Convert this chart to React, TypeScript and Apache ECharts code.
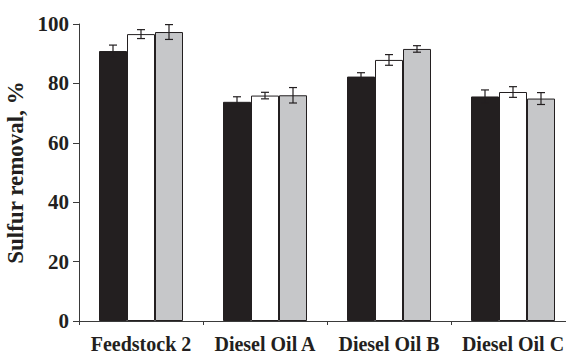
import React, { useEffect, useRef } from "react";
import * as echarts from "echarts";

const categories = ["Feedstock 2", "Diesel Oil A", "Diesel Oil B", "Diesel Oil C"];
const blackValues = [90.9, 73.8, 82.3, 75.6];
const whiteValues = [96.6, 75.9, 87.9, 77.1];
const grayValues = [97.3, 76.0, 91.6, 74.9];
const blackErrors = [2.0, 1.7, 1.3, 2.2];
const whiteErrors = [1.5, 1.1, 1.8, 1.8];
const grayErrors = [2.5, 2.6, 1.1, 2.0];
const yTicks = [0, 20, 40, 60, 80, 100];

const INK = "#231f20";
const FONT = "'Liberation Serif', 'Times New Roman', serif";
const BAR_W = 28;

function errorSeries(values: number[], errors: number[], offset: number) {
  return {
    type: "custom",
    z: 10,
    clip: false,
    data: values.map((v, i) => [i, v, errors[i]]),
    renderItem: (_params: any, api: any) => {
      const idx = api.value(0);
      const v = api.value(1);
      const e = api.value(2);
      const x = api.coord([idx, v])[0] + offset;
      const yTop = api.coord([idx, v + e])[1];
      const yBot = api.coord([idx, v - e])[1];
      const cap = 4;
      const style = { stroke: INK, lineWidth: 1.2 };
      return {
        type: "group",
        children: [
          { type: "line", shape: { x1: x, y1: yTop, x2: x, y2: yBot }, style },
          { type: "line", shape: { x1: x - cap, y1: yTop, x2: x + cap, y2: yTop }, style },
          { type: "line", shape: { x1: x - cap, y1: yBot, x2: x + cap, y2: yBot }, style },
        ],
      };
    },
  };
}

export default function App() {
  const ref = useRef<HTMLDivElement>(null);
  useEffect(() => {
    if (!ref.current) return;
    const chart = echarts.init(ref.current, undefined, { renderer: "svg" });
    const barBase = {
      type: "bar",
      barWidth: BAR_W,
      barGap: "0%",
    };
    chart.setOption({
      animation: false,
      backgroundColor: "#ffffff",
      grid: {
        left: 79,
        top: 24,
        width: 496,
        height: 297,
        containLabel: false,
        outerBoundsMode: "none",
      },
      xAxis: {
        type: "category",
        data: categories,
        axisLine: { lineStyle: { color: "#3a3a3a", width: 1 } },
        axisTick: { show: true, length: 4, lineStyle: { color: "#3a3a3a" } },
        axisLabel: {
          interval: 0,
          color: INK,
          fontFamily: FONT,
          fontWeight: "bold",
          fontSize: 20,
          lineHeight: 14,
          margin: 16,
        },
      },
      yAxis: {
        type: "value",
        min: yTicks[0],
        max: yTicks[yTicks.length - 1],
        interval: 20,
        name: "Sulfur removal, %",
        nameLocation: "middle",
        nameRotate: 90,
        nameGap: 42,
        nameTextStyle: {
          color: INK,
          fontFamily: FONT,
          fontWeight: "bold",
          fontSize: 23,
        },
        splitLine: { show: false },
        axisLine: { show: true, lineStyle: { color: "#3a3a3a", width: 1 } },
        axisTick: { show: true, length: 6, lineStyle: { color: "#3a3a3a" } },
        axisLabel: {
          color: INK,
          fontFamily: FONT,
          fontWeight: "bold",
          fontSize: 21,
          margin: 10,
        },
      },
      series: [
        { ...barBase, name: "A", data: blackValues, itemStyle: { color: INK, borderColor: INK, borderWidth: 1 } },
        { ...barBase, name: "B", data: whiteValues, itemStyle: { color: "#ffffff", borderColor: INK, borderWidth: 1 } },
        { ...barBase, name: "C", data: grayValues, itemStyle: { color: "#c6c7c9", borderColor: INK, borderWidth: 1 } },
        errorSeries(blackValues, blackErrors, -BAR_W),
        errorSeries(whiteValues, whiteErrors, 0),
        errorSeries(grayValues, grayErrors, BAR_W),
      ],
    });
    return () => chart.dispose();
  }, []);
  return (
    <div
      ref={ref}
      style={{ position: "fixed", left: 0, top: 0, width: 566, height: 354, background: "#fff" }}
    />
  );
}
